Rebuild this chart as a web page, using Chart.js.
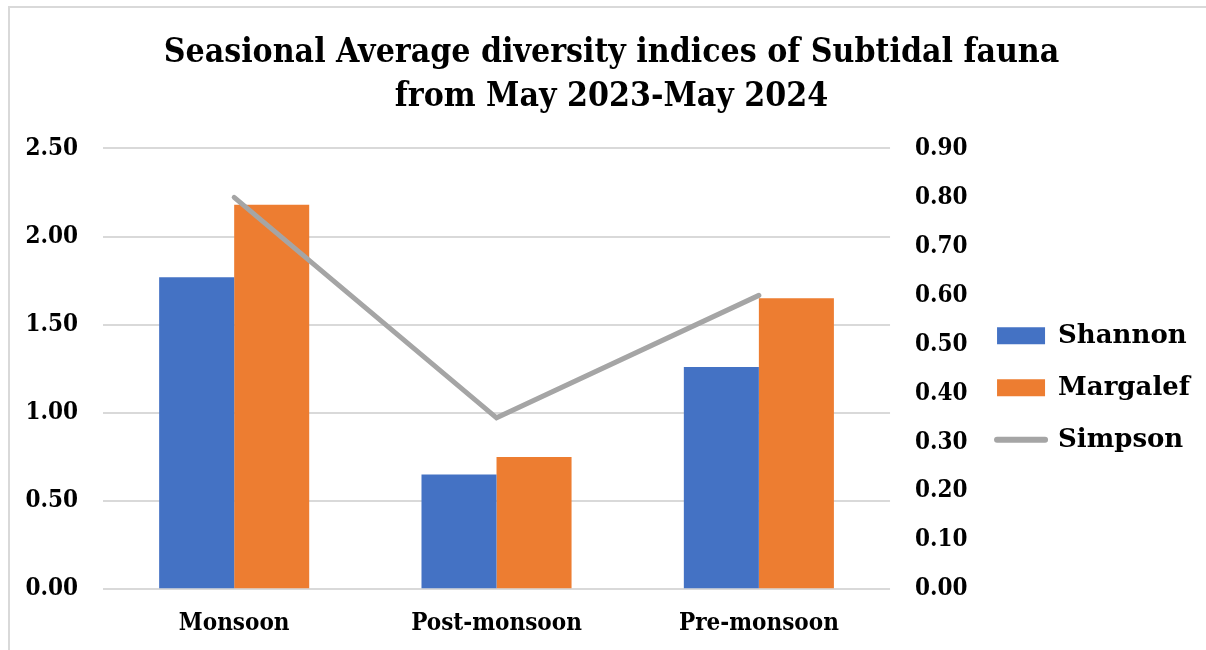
<!DOCTYPE html>
<html>
<head>
<meta charset="utf-8">
<script src="https://cdn.jsdelivr.net/npm/chart.js@4"></script>
<style>
  html, body { margin: 0; padding: 0; background: #fff; }
  #frame { position: absolute; left: 8px; top: 6px; width: 1198px; height: 644px;
           border-left: 2px solid #d9d9d9; border-top: 2px solid #d9d9d9; }
  #wrap { position: absolute; left: 0; top: 0; width: 1206px; height: 650px; }
</style>
</head>
<body>
<div id="frame"></div>
<div id="wrap"><canvas id="diversityChart" width="1206" height="650"></canvas></div>
<script>
const seasons = ['Monsoon', 'Post-monsoon', 'Pre-monsoon'];
const shannon = [1.77, 0.65, 1.26];
const margalef = [2.18, 0.75, 1.65];
const simpson = [0.80, 0.35, 0.60];

const serif = "'DejaVu Serif', serif";
const narrowSerif = "'DejaVu Serif Condensed', 'DejaVu Serif', serif";

const diversityCtx = document.getElementById('diversityChart').getContext('2d');
const diversityChart = new Chart(diversityCtx, {
    data: {
        labels: seasons,
        datasets: [{
            type: 'line',
            label: 'Simpson',
            data: simpson,
            yAxisID: 'y1',
            borderColor: '#a5a5a5',
            backgroundColor: '#a5a5a5',
            borderWidth: 5,
            borderCapStyle: 'round',
            pointRadius: 0,
            tension: 0,
            order: 0
        }, {
            type: 'bar',
            label: 'Shannon',
            data: shannon,
            yAxisID: 'y',
            backgroundColor: '#4472c4',
            order: 1
        }, {
            type: 'bar',
            label: 'Margalef',
            data: margalef,
            yAxisID: 'y',
            backgroundColor: '#ed7d31',
            order: 1
        }]
    },
    options: {
        responsive: false,
        animation: false,
        layout: {
            padding: { left: 23, right: 6, top: 31, bottom: 0 }
        },
        datasets: {
            bar: { categoryPercentage: 0.572, barPercentage: 1.0 }
        },
        plugins: {
            title: {
                display: true,
                text: ['Seasional Average diversity indices of Subtidal fauna', 'from May 2023-May 2024'],
                color: '#000',
                font: { family: narrowSerif, size: 33.5, weight: 'bold', lineHeight: 1.32 },
                padding: { top: 0, bottom: 29 }
            },
            legend: {
                position: 'right',
                fullSize: false,
                maxWidth: 320,
                title: {
                    display: true,
                    text: ' ',
                    font: { size: 10, lineHeight: 1.4 },
                    padding: { top: 0, bottom: 24 }
                },
                labels: {
                    color: '#000',
                    font: { family: serif, size: 26, weight: 'bold' },
                    usePointStyle: true,
                    pointStyleWidth: 48,
                    boxWidth: 48,
                    boxHeight: 17,
                    padding: 26,
                    sort: (a, b) => {
                        const rank = { Shannon: 0, Margalef: 1, Simpson: 2 };
                        return rank[a.text] - rank[b.text];
                    },
                    generateLabels(chart) {
                        const items = Chart.defaults.plugins.legend.labels.generateLabels(chart);
                        items.forEach(it => {
                            const ds = chart.data.datasets[it.datasetIndex];
                            if (ds.type === 'line') {
                                it.pointStyle = 'line';
                                it.lineWidth = 6;
                                it.strokeStyle = '#a5a5a5';
                                it.lineCap = 'round';
                            } else {
                                it.pointStyle = 'rect';
                                it.lineWidth = 0;
                            }
                        });
                        return items;
                    }
                }
            },
            tooltip: { enabled: false }
        },
        scales: {
            x: {
                grid: { display: false },
                border: { display: false },
                ticks: {
                    color: '#000',
                    padding: 12,
                    font: { family: narrowSerif, size: 24, weight: 'bold' }
                }
            },
            y: {
                position: 'left',
                min: 0,
                max: 2.5,
                afterFit: axis => { axis.width = 80; },
                grid: { color: '#d9d9d9', lineWidth: 2, drawTicks: false },
                border: { display: false },
                ticks: {
                    stepSize: 0.5,
                    color: '#000',
                    padding: 25,
                    font: { family: narrowSerif, size: 24, weight: 'bold' },
                    callback: v => v.toFixed(2)
                }
            },
            y1: {
                position: 'right',
                min: 0,
                max: 0.9,
                afterFit: axis => { axis.width = 81; },
                grid: { display: false, drawTicks: false },
                border: { display: false },
                ticks: {
                    stepSize: 0.1,
                    color: '#000',
                    padding: 25,
                    font: { family: narrowSerif, size: 24, weight: 'bold' },
                    callback: v => v.toFixed(2)
                }
            }
        }
    }
});
</script>
</body>
</html>
